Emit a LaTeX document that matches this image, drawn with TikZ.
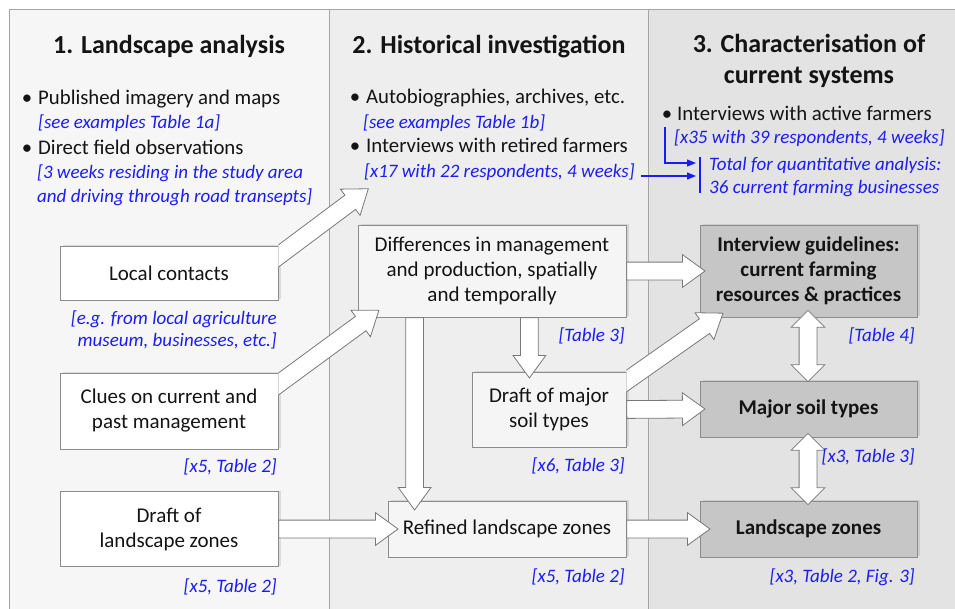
\documentclass[tikz,border=0pt]{standalone}
\usepackage{fontspec}
\setmainfont{Carlito}
\usetikzlibrary{shapes.arrows,calc,shadows,arrows.meta}
\definecolor{txt}{RGB}{20,20,20}
\definecolor{bl}{RGB}{28,28,245}
\definecolor{pone}{RGB}{246,246,246}
\definecolor{ptwo}{RGB}{238,238,238}
\definecolor{pthree}{RGB}{227,227,227}
\definecolor{pline}{RGB}{165,165,165}
\definecolor{bline}{RGB}{140,140,140}
\definecolor{btwo}{RGB}{245,245,245}
\definecolor{bthree}{RGB}{198,198,198}
\definecolor{aline}{RGB}{120,120,120}
\newcommand\blockarrow[2]{\path let \p1=($(#2)-(#1)$), \n1={atan2(\y1,\x1)}, \n2={veclen(\x1,\y1)} in node[barr, rotate=\n1, minimum height=\n2] at (#1) {};}
\newcommand\dblockarrow[2]{\path let \p1=($(#2)-(#1)$), \n1={atan2(\y1,\x1)}, \n2={veclen(\x1,\y1)} in node[darr, rotate=\n1, minimum height=\n2] at ($(#1)!0.5!(#2)$) {};}
\begin{document}
\begin{tikzpicture}[x=1pt,y=-1pt,
  panel/.style={draw=pline, line width=0.8pt},
  heading/.style={font=\fontsize{26}{31}\selectfont\bfseries, text=txt, inner sep=0pt},
  bodytext/.style={font=\fontsize{20.8}{25}\selectfont, text=txt, inner sep=0pt},
  bluenote/.style={font=\fontsize{19}{23}\selectfont\itshape, text=bl, inner sep=0pt},
  anybox/.style={draw=bline, line width=0.8pt, align=center, font=\fontsize{21}{25}\selectfont, text=txt, inner sep=0pt,
     drop shadow={shadow xshift=3pt, shadow yshift=1pt, opacity=0.22}},
  wbox/.style={anybox, fill=white},
  lbox/.style={anybox, fill=btwo},
  gbox/.style={anybox, fill=bthree, font=\fontsize{21}{25}\selectfont\bfseries},
  barr/.style={single arrow, draw=aline, fill=white, line width=0.8pt, inner xsep=0pt, inner ysep=8.5pt,
     single arrow head extend=7.5pt, single arrow tip angle=72, anchor=tail, minimum width=0pt},
  darr/.style={double arrow, draw=aline, fill=white, line width=0.8pt, inner xsep=0pt, inner ysep=8.5pt,
     double arrow head extend=8pt, double arrow tip angle=90, minimum width=0pt},
  blueline/.style={draw=bl, line width=1.2pt},
  bluearrow/.style={blueline, -{Triangle[length=9pt,width=7pt]}}
]
\useasboundingbox (0,0) rectangle (955,608);
\clip (0,0) rectangle (955,608);
% panels
\draw[panel, fill=pone] (9,9) rectangle (329,640);
\draw[panel, fill=ptwo] (329,9) rectangle (648,640);
\draw[panel, fill=pthree] (648,9) rectangle (970,640);

% headings
\node[heading, anchor=base] (h1) at (169,53) {1. Landscape analysis};
\node[heading, anchor=base] (h2) at (489,53) {2. Historical investigation};
\node[heading, anchor=base] (h3a) at (809,52) {3. Characterisation of};
\node[heading, anchor=base] (h3b) at (809,83) {current systems};

% panel 1 text
\node[bodytext, anchor=base] (b11) at (27,104) {•};
\node[bodytext, anchor=base west] (t11) at (38,104) {Published imagery and maps};
\node[bluenote, anchor=base west] (c11) at (38,128) {[see examples Table 1a]};
\node[bodytext, anchor=base] (b12) at (27,154) {•};
\node[bodytext, anchor=base west] (t12) at (38,154) {Direct field observations};
\node[bluenote, anchor=base west] (c12a) at (37,178) {[3 weeks residing in the study area};
\node[bluenote, anchor=base west] (c12b) at (37,202) {and driving through road transepts]};

% panel 2 text
\node[bodytext, anchor=base] (b21) at (355,103) {•};
\node[bodytext, anchor=base west] (t21) at (366,103) {Autobiographies, archives, etc.};
\node[bluenote, anchor=base west] (c21) at (363,128) {[see examples Table 1b]};
\node[bodytext, anchor=base] (b22) at (355,152) {•};
\node[bodytext, anchor=base west] (t22) at (366,152) {Interviews with retired farmers};
\node[bluenote, anchor=base west] (c22) at (364,177) {[x17 with 22 respondents, 4 weeks]};

% panel 3 text
\node[bodytext, anchor=base] (b31) at (667,120) {•};
\node[bodytext, anchor=base west] (t31) at (677,120) {Interviews with active farmers};
\node[bluenote, anchor=base west] (c31) at (674,143) {[x35 with 39 respondents, 4 weeks]};
\node[bluenote, anchor=base west] (tot1) at (709,170) {Total for quantitative analysis:};
\node[bluenote, anchor=base west] (tot2) at (709,193) {36 current farming businesses};

% blue connectors
\coordinate (bartop) at (700,157);
\coordinate (barbot) at (700,193);
\draw[blueline] (bartop) -- (barbot);
\coordinate (lstart) at (665,127);
\coordinate (in1) at (696,163);
\coordinate (in2) at (696,176);
\coordinate (x17end) at (641,176);
\draw[bluearrow] (lstart) |- (in1);
\draw[bluearrow] (x17end) -- (in2);

% boxes
\node[wbox, minimum width=218, minimum height=54] (local) at (169,273) {Local contacts};
\node[wbox, minimum width=218, minimum height=76] (clues) at (169,411) {Clues on current and\\past management};
\node[wbox, minimum width=218, minimum height=75] (draftz) at (169,529) {Draft of\\landscape zones};
\node[lbox, minimum width=268, minimum height=92] (diff) at (492,271) {Differences in management\\and production, spatially\\and temporally};
\node[lbox, minimum width=154, minimum height=75] (soil) at (549,409.5) {Draft of major\\soil types};
\node[lbox, minimum width=238, minimum height=56] (refined) at (507,529) {Refined landscape zones};
\node[gbox, minimum width=217, minimum height=92] (guide) at (808.5,271) {Interview guidelines:\\current farming\\resources \& practices};
\node[gbox, minimum width=217, minimum height=56] (major) at (808.5,409) {Major soil types};
\node[gbox, minimum width=217, minimum height=56] (zones) at (808.5,529) {Landscape zones};

% diagonal block arrows (tails hidden in source box)
\coordinate (a1s) at ($(local.east)+(0,-17)$);
\coordinate (a1t) at (368,189);
\coordinate (a1b) at ($(a1t)!1.3!(a1s)$);
\coordinate (a2s) at ($(clues.east)+(0,-27)$);
\coordinate (a2t) at ($(diff.south west)+(21,-7)$);
\coordinate (a2b) at ($(a2t)!1.3!(a2s)$);
\begin{scope}
\clip (local.east |- 0,0) rectangle (955,608);
\blockarrow{a1b}{a1t}
\blockarrow{a2b}{a2t}
\end{scope}
\coordinate (a7s) at ($(soil.east)+(0,-28.5)$);
\coordinate (a7t) at ($(guide.south west)+(23,-4)$);
\coordinate (a7b) at ($(a7t)!1.3!(a7s)$);
\begin{scope}
\clip (soil.east |- 0,0) rectangle (955,608);
\blockarrow{a7b}{a7t}
\end{scope}

% straight block arrows
\coordinate (a3t) at ($(refined.west)+(10,0)$);
\blockarrow{draftz.east}{a3t}
\coordinate (a6t) at ($(guide.west)+(5,0)$);
\blockarrow{diff.east}{a6t}
\coordinate (a8t) at ($(major.west)+(5,0)$);
\blockarrow{soil.east}{a8t}
\coordinate (a9t) at ($(zones.west)+(10,0)$);
\blockarrow{refined.east}{a9t}
\coordinate (a4s) at ($(diff.south west)+(57,0)$);
\coordinate (a4t) at ($(a4s |- refined.north)+(0,9)$);
\blockarrow{a4s}{a4t}
\coordinate (a5s) at ($(diff.south east)+(-97,0)$);
\coordinate (a5t) at ($(a5s |- soil.north)+(0,6)$);
\blockarrow{a5s}{a5t}

% double block arrows
\coordinate (d1a) at ($(guide.south)+(-0.5,-7)$);
\coordinate (d1b) at ($(major.north)+(-0.5,1)$);
\dblockarrow{d1a}{d1b}
\coordinate (d2a) at ($(major.south)+(-0.5,-4)$);
\coordinate (d2b) at ($(zones.north)+(-0.5,4)$);
\dblockarrow{d2a}{d2b}

% side notes
\node[bluenote, anchor=base east] (n1a) at (277,324) {[e.g. from local agriculture};
\node[bluenote, anchor=base east] (n1b) at (277,346) {museum, businesses, etc.]};
\node[bluenote, anchor=base east] (n2) at (277,472) {[x5, Table 2]};
\node[bluenote, anchor=base east] (n3) at (277,592) {[x5, Table 2]};
\node[bluenote, anchor=base east] (n4) at (625,341) {[Table 3]};
\node[bluenote, anchor=base east] (n5) at (625,471) {[x6, Table 3]};
\node[bluenote, anchor=base east] (n6) at (625,582) {[x5, Table 2]};
\node[bluenote, anchor=base east] (n7) at (915,341) {[Table 4]};
\node[bluenote, anchor=base east] (n8) at (915,462) {[x3, Table 3]};
\node[bluenote, anchor=base east] (n9) at (915,582) {[x3, Table 2, Fig. 3]};
\end{tikzpicture}
\end{document}
